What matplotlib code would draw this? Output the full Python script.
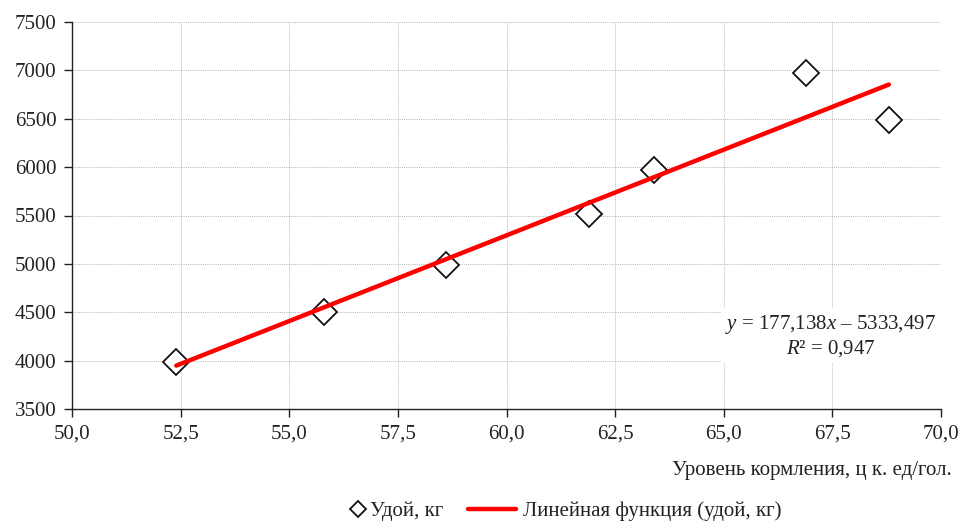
import numpy as np
import matplotlib
matplotlib.use("Agg")
import matplotlib.pyplot as plt
from matplotlib.ticker import FuncFormatter
from matplotlib.legend_handler import HandlerLine2D

plt.rcParams['font.family'] = ['Liberation Serif', 'DejaVu Serif']
plt.rcParams['mathtext.fontset'] = 'custom'
plt.rcParams['mathtext.rm'] = 'Liberation Serif'
plt.rcParams['mathtext.it'] = 'Liberation Serif:italic'

# data
feed_level = [52.4, 55.8, 58.6, 61.9, 63.4, 66.9, 68.8]
milk_yield = [3985, 4505, 4990, 5515, 5975, 6970, 6485]
slope = 177.138
intercept = -5333.497
r2 = 0.947


# marker drawn near the right end of its legend handle box
class RightMarker(HandlerLine2D):
    def get_xdata(self, legend, xdescent, ydescent, width, height, fontsize):
        p = -xdescent + width - 4
        return [p - 1, p + 1], [p]


fig = plt.figure(figsize=(9.63, 5.22), dpi=100)
ax = fig.add_axes([72 / 963, 1 - 409 / 522, 869 / 963, 387 / 522])

x_fit = np.array([min(feed_level), max(feed_level)])
y_fit = slope * x_fit + intercept

pts, = ax.plot(feed_level, milk_yield, linestyle='none', marker='D', markersize=13,
               markerfacecolor='white', markeredgecolor='#111111', markeredgewidth=1.3,
               label='Удой, кг', zorder=3)
ax.plot(x_fit, y_fit, color='#ff0000', linewidth=3.2, solid_capstyle='round',
        label='Линейная функция (удой, кг)', zorder=4)

ax.set_xlim(50, 70)
ax.set_ylim(3500, 7500)
ax.set_xticks(np.arange(50, 70.1, 2.5))
ax.set_yticks(np.arange(3500, 7501, 500))
ax.xaxis.set_major_formatter(FuncFormatter(lambda v, p: f"{v:.1f}".replace('.', ',')))
ax.yaxis.set_major_formatter(FuncFormatter(lambda v, p: f"{int(v)}"))

ax.grid(True, color='#b4b4b4', linestyle=(0, (1, 1.2)), linewidth=0.7)
ax.set_axisbelow(True)
for s in ['top', 'right']:
    ax.spines[s].set_visible(False)
for s in ['left', 'bottom']:
    ax.spines[s].set_color('#222222')
    ax.spines[s].set_linewidth(1.0)
ax.tick_params(direction='out', length=6, width=1, color='#222222',
               labelsize=15, labelcolor='#222222', pad=5)

eq = (r"$y$ = " + f"{slope:.3f}".replace('.', ',') + r"$x$ – "
      + f"{-intercept:.3f}".replace('.', ',') + "\n"
      + r"$R$² = " + f"{r2:.3f}".replace('.', ','))
ax.text(0.873, 0.189, eq, transform=ax.transAxes, ha='center', va='center',
        fontsize=15, color='#222222', linespacing=1.15,
        bbox=dict(facecolor='white', edgecolor='none', pad=3))

fig.text(952 / 963, 1 - 470 / 522, 'Уровень кормления, ц к. ед/гол.', ha='right',
         va='center', fontsize=15, color='#222222')

fig.legend(loc='center left', bbox_to_anchor=(316 / 963, 1 - 511 / 522), ncol=2,
           frameon=False, fontsize=15, handlelength=2.3, columnspacing=1.2,
           handletextpad=0.3, borderpad=0, borderaxespad=0, labelcolor='#222222',
           markerscale=0.6, handler_map={pts: RightMarker()})

fig.savefig('out.png', dpi=100)
